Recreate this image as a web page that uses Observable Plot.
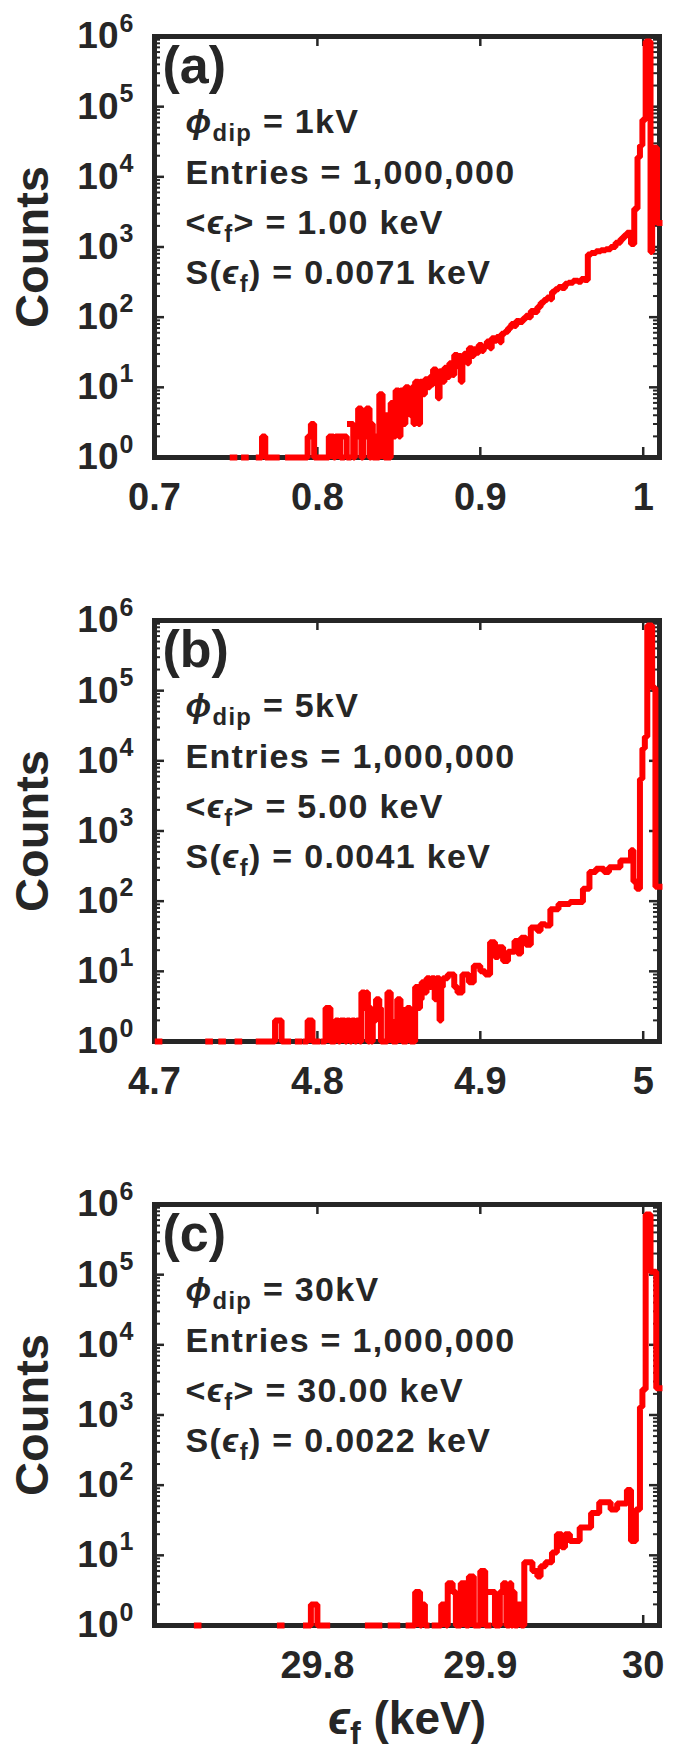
<!DOCTYPE html>
<html><head><meta charset="utf-8">
<script src="https://cdn.jsdelivr.net/npm/d3@7"></script>
<script src="https://cdn.jsdelivr.net/npm/@observablehq/plot@0.6"></script>
<style>
body{margin:0;background:#fff;width:674px;}
#chart svg{display:block;}
</style></head><body><div id="chart"></div>
<script>
// ---- Data: histogram steps [bin left edge where count changes, count]; 0 = empty bins ----
const stepsA = [[0.748,1],[0.749,0],[0.755,1],[0.756,0],[0.764,1],[0.766,2],[0.768,1],[0.769,0],[0.771,1],[0.772,0],[0.774,1],[0.775,0],[0.782,1],[0.783,0],[0.786,1],[0.787,0],[0.789,1],[0.790,0],[0.793,1],[0.794,2],[0.796,3],[0.798,1],[0.800,0],[0.802,1],[0.803,0],[0.805,1],[0.807,2],[0.810,1],[0.811,2],[0.814,1],[0.815,0],[0.816,2],[0.818,1],[0.819,0],[0.820,3],[0.822,1],[0.823,2],[0.825,5],[0.827,1],[0.828,3],[0.829,2],[0.830,5],[0.832,1],[0.833,3],[0.834,1],[0.835,0],[0.836,2],[0.837,1],[0.838,8],[0.840,4],[0.841,1],[0.842,0],[0.843,4],[0.844,1],[0.845,6],[0.846,3],[0.847,2],[0.848,9],[0.850,2],[0.851,9],[0.852,5],[0.853,3],[0.854,10],[0.856,6],[0.857,4],[0.858,10],[0.859,3],[0.860,12],[0.862,3],[0.863,12],[0.865,8],[0.866,13],[0.868,10],[0.869,14],[0.870,11],[0.871,18],[0.873,15],[0.874,7],[0.875,17],[0.877,12],[0.878,19],[0.880,14],[0.881,22],[0.883,15],[0.884,29],[0.886,20],[0.887,28],[0.888,12],[0.889,25],[0.890,30],[0.892,22],[0.893,36],[0.895,28],[0.896,35],[0.898,31],[0.899,40],[0.901,33],[0.902,38],[0.904,45],[0.906,36],[0.907,50],[0.909,46],[0.910,52],[0.912,44],[0.913,58],[0.915,62],[0.917,70],[0.919,80],[0.921,75],[0.922,88],[0.924,85],[0.926,95],[0.928,105],[0.930,100],[0.931,122],[0.933,118],[0.935,140],[0.937,160],[0.939,175],[0.941,190],[0.943,180],[0.944,230],[0.946,250],[0.948,270],[0.950,260],[0.952,300],[0.954,310],[0.957,330],[0.960,320],[0.962,350],[0.964,340],[0.966,780],[0.968,820],[0.971,870],[0.974,900],[0.977,930],[0.980,1000],[0.983,1150],[0.986,1300],[0.988,1450],[0.990,1600],[0.9925,1100],[0.9945,3500],[0.9965,19000],[0.998,28000],[0.9995,65000],[1.0015,850000],[1.0045,850],[1.0055,26000],[1.0085,2200]];
const endA = 1.01;

const stepsB = [[4.702,1],[4.703,0],[4.733,1],[4.734,0],[4.741,1],[4.742,0],[4.751,1],[4.752,0],[4.764,1],[4.765,0],[4.768,1],[4.770,0],[4.773,1],[4.774,2],[4.778,1],[4.779,0],[4.781,1],[4.782,0],[4.788,1],[4.789,0],[4.793,1],[4.794,2],[4.797,1],[4.798,0],[4.799,1],[4.800,0],[4.804,1],[4.805,3],[4.808,1],[4.809,0],[4.810,1],[4.811,2],[4.813,1],[4.814,2],[4.817,1],[4.818,2],[4.820,1],[4.821,2],[4.823,1],[4.824,2],[4.826,1],[4.827,5],[4.829,3],[4.830,5],[4.831,1],[4.832,3],[4.833,1],[4.834,2],[4.836,4],[4.838,3],[4.839,1],[4.840,0],[4.842,1],[4.843,5],[4.845,2],[4.846,1],[4.847,0],[4.848,1],[4.849,4],[4.851,3],[4.852,1],[4.853,0],[4.854,1],[4.855,3],[4.857,1],[4.858,0],[4.859,1],[4.860,6],[4.862,3],[4.863,4],[4.864,7],[4.866,5],[4.867,8],[4.869,6],[4.870,8],[4.872,4],[4.873,8],[4.875,2],[4.876,6],[4.877,8],[4.880,9],[4.884,6],[4.886,5],[4.889,9],[4.893,7],[4.896,12],[4.900,10],[4.903,9],[4.906,26],[4.909,16],[4.911,22],[4.914,14],[4.917,19],[4.921,27],[4.923,18],[4.925,30],[4.928,24],[4.931,42],[4.935,38],[4.937,47],[4.940,45],[4.943,77],[4.948,91],[4.955,97],[4.963,150],[4.967,260],[4.971,290],[4.976,260],[4.979,305],[4.986,380],[4.9925,530],[4.994,190],[4.996,150],[4.998,5500],[4.9995,15000],[5.001,22000],[5.0025,850000],[5.0055,110000],[5.0075,160]];
const endB = 5.01;

const stepsC = [[29.726,1],[29.727,0],[29.777,1],[29.778,0],[29.793,1],[29.794,0],[29.795,1],[29.796,2],[29.800,1],[29.801,0],[29.802,1],[29.803,0],[29.805,1],[29.806,0],[29.831,1],[29.832,0],[29.834,1],[29.835,0],[29.837,1],[29.838,0],[29.845,1],[29.846,0],[29.848,1],[29.849,0],[29.856,1],[29.857,0],[29.859,1],[29.860,3],[29.863,1],[29.864,2],[29.866,1],[29.867,0],[29.872,1],[29.876,2],[29.879,1],[29.880,4],[29.883,3],[29.885,1],[29.886,0],[29.887,1],[29.888,4],[29.891,1],[29.893,5],[29.896,1],[29.898,0],[29.899,1],[29.900,6],[29.903,1],[29.905,0],[29.906,3],[29.909,1],[29.910,0],[29.911,1],[29.912,3],[29.914,4],[29.916,1],[29.918,4],[29.919,1],[29.920,3],[29.921,1],[29.923,2],[29.925,1],[29.927,8],[29.932,6],[29.935,5],[29.937,7],[29.940,8],[29.944,11],[29.947,20],[29.950,13],[29.952,20],[29.955,16],[29.961,25],[29.968,40],[29.973,57],[29.980,45],[29.984,55],[29.990,85],[29.9925,16],[29.9955,45],[29.998,1300],[29.9995,2300],[30.0015,720000],[30.0045,110000],[30.008,2400]];
const endC = 30.01;

// ---- Axes ----
const xDomains = [[0.7, 1.01], [4.7, 5.01], [29.7, 30.01]];
const xTicksA = [0.7, 0.8, 0.9, 1];
const xTicksB = [4.7, 4.8, 4.9, 5];
const xTicksC = [29.8, 29.9, 30];
const xTickLabelsA = ["0.7", "0.8", "0.9", "1"];
const xTickLabelsB = ["4.7", "4.8", "4.9", "5"];
const xTickLabelsC = ["29.8", "29.9", "30"];
const yMajor = [1, 10, 100, 1e3, 1e4, 1e5, 1e6];
const yMinor = yMajor.slice(0, -1).flatMap(p => [2,3,4,5,6,7,8,9].map(m => m * p));

// ---- Text ----
const panelLetters = ["(a)", "(b)", "(c)"];
const phiLabels = ["ϕ_{dip} = 1kV", "ϕ_{dip} = 5kV", "ϕ_{dip} = 30kV"];
const entriesLabels = ["Entries = 1,000,000", "Entries = 1,000,000", "Entries = 1,000,000"];
const meanLabels = ["<ϵ_{f}> = 1.00 keV", "<ϵ_{f}> = 5.00 keV", "<ϵ_{f}> = 30.00 keV"];
const spreadLabels = ["S(ϵ_{f}) = 0.0071 keV", "S(ϵ_{f}) = 0.0041 keV", "S(ϵ_{f}) = 0.0022 keV"];
const yLabel = "Counts";
const xLabel = "ϵ_{f} (keV)";

const INK = "#262626";
const FONT = "'Liberation Sans', Arial, Helvetica, sans-serif";
const W = 674, ML = 154, MR = 15, MT = 36, PH = 421;
const FW = W - ML - MR;
const ANN_SIZE = 34;

function toLine(steps, end) {
  const pts = [];
  steps.forEach(([x, c], i) => {
    const x1 = i + 1 < steps.length ? steps[i + 1][0] : end;
    const y = c > 0 ? c : NaN;
    pts.push({x, y}, {x: x1, y});
  });
  return pts;
}

function richify(svg) {
  d3.select(svg).selectAll(`g[font-size="${ANN_SIZE}"] text, text[font-size="${ANN_SIZE}"]`).attr("letter-spacing", "1.3");
  d3.select(svg).selectAll("text").each(function () {
    const s = this.textContent;
    if (!/_\{|ϕ|ϵ/.test(s)) return;
    const parts = s.split(/(_\{[^}]*\}|[ϕϵ])/).filter(p => p);
    this.textContent = "";
    let lowered = false;
    for (const p of parts) {
      const t = document.createElementNS("http://www.w3.org/2000/svg", "tspan");
      if (p.startsWith("_{")) {
        t.textContent = p.slice(2, -1);
        t.setAttribute("font-size", "70%");
        t.setAttribute("dy", "0.3em");
        lowered = true;
      } else {
        t.textContent = p;
        if (p === "ϕ" || p === "ϵ") t.setAttribute("font-style", "italic");
        if (lowered) { t.setAttribute("dy", "-0.21em"); lowered = false; }
      }
      this.appendChild(t);
    }
  });
}

function panel(i, steps, end, xTicks, xTickLabels, height, withXLabel) {
  const mb = height - MT - PH;
  const txt = {fill: INK, fontWeight: "bold", fontFamily: FONT};
  const ann = {frameAnchor: "top-left", text: d => d, textAnchor: "start", lineAnchor: "middle", dx: 31, fontSize: ANN_SIZE, ...txt};
  const marks = [
    Plot.frame({stroke: INK, strokeWidth: 5}),
    Plot.ruleX(xTicks, {x: d => d, insetTop: PH - 10, stroke: INK, strokeWidth: 2.5}),
    Plot.ruleX(xTicks, {x: d => d, insetBottom: PH - 10, stroke: INK, strokeWidth: 2.5}),
    Plot.ruleY(yMajor, {y: d => d, insetRight: FW - 10, stroke: INK, strokeWidth: 2.5}),
    Plot.ruleY(yMajor, {y: d => d, insetLeft: FW - 10, stroke: INK, strokeWidth: 2.5}),
    Plot.ruleY(yMinor, {y: d => d, insetRight: FW - 6, stroke: INK, strokeWidth: 2}),
    Plot.ruleY(yMinor, {y: d => d, insetLeft: FW - 6, stroke: INK, strokeWidth: 2}),
    Plot.line(toLine(steps, end), {x: "x", y: "y", stroke: "#ff0000", strokeWidth: 6, strokeLinejoin: "miter", strokeLinecap: "square"}),
    // y tick labels 10^n
    Plot.text(yMajor, {y: d => d, frameAnchor: "left", text: () => "10", textAnchor: "end", lineAnchor: "middle", dx: -36, fontSize: 37, ...txt}),
    Plot.text(yMajor, {y: d => d, frameAnchor: "left", text: d => String(Math.round(Math.log10(d))), textAnchor: "start", lineAnchor: "middle", dx: -35, dy: -13, fontSize: 25, ...txt}),
    // x tick labels
    Plot.text(xTicks, {x: d => d, frameAnchor: "bottom", text: (d, j) => xTickLabels[j], textAnchor: "middle", lineAnchor: "top", dy: 26, fontSize: 38, ...txt}),
    // y label
    Plot.text([yLabel], {frameAnchor: "left", text: d => d, rotate: -90, textAnchor: "middle", lineAnchor: "middle", dx: -122, fontSize: 47, ...txt}),
    // annotations
    Plot.text([panelLetters[i]], {frameAnchor: "top-left", text: d => d, textAnchor: "start", lineAnchor: "middle", dx: 8, dy: 30, fontSize: 52, ...txt}),
    Plot.text([phiLabels[i]], {...ann, dy: 86}),
    Plot.text([entriesLabels[i]], {...ann, dy: 137}),
    Plot.text([meanLabels[i]], {...ann, dy: 187}),
    Plot.text([spreadLabels[i]], {...ann, dy: 237})
  ];
  if (withXLabel) {
    marks.push(Plot.text([xLabel], {frameAnchor: "bottom", text: d => d, textAnchor: "middle", lineAnchor: "middle", dy: 94, fontSize: 46, ...txt}));
  }
  const svg = Plot.plot({
    width: W, height,
    marginLeft: ML, marginRight: MR, marginTop: MT, marginBottom: mb,
    x: {domain: xDomains[i], axis: null},
    y: {type: "log", domain: [1, 1e6], axis: null},
    style: {fontFamily: FONT, fontWeight: "bold", color: INK, background: "#ffffff", overflow: "visible"},
    marks
  });
  richify(svg);
  return svg;
}

const root = document.getElementById("chart");
root.appendChild(panel(0, stepsA, endA, xTicksA, xTickLabelsA, 584, false));
root.appendChild(panel(1, stepsB, endB, xTicksB, xTickLabelsB, 584, false));
root.appendChild(panel(2, stepsC, endC, xTicksC, xTickLabelsC, 583, true));
</script></body></html>
